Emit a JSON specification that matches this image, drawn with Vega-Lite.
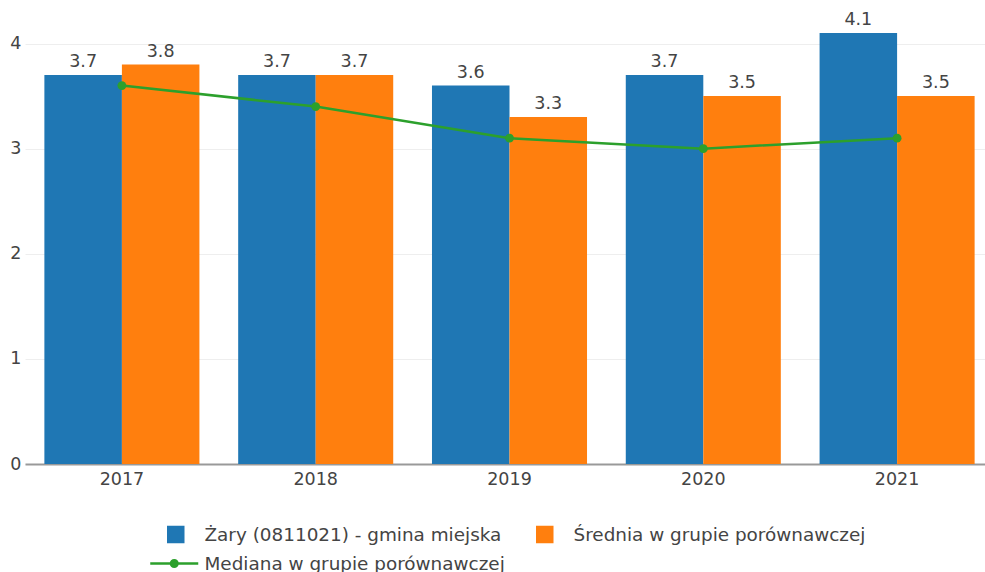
{
  "$schema": "https://vega.github.io/schema/vega-lite/v6.json",
  "width": 960,
  "height": 452,
  "autosize": {"type": "none"},
  "padding": {"left": 25, "top": 12, "right": 0, "bottom": 108},
  "config": {"view": {"stroke": null}, "font": "DejaVu Sans"},
  "data": {
    "values": [
      {"year": "2017", "series": "Żary (0811021) - gmina miejska", "value": 3.7},
      {"year": "2017", "series": "Średnia w grupie porównawczej", "value": 3.8},
      {"year": "2017", "series": "Mediana w grupie porównawczej", "value": 3.6},
      {"year": "2018", "series": "Żary (0811021) - gmina miejska", "value": 3.7},
      {"year": "2018", "series": "Średnia w grupie porównawczej", "value": 3.7},
      {"year": "2018", "series": "Mediana w grupie porównawczej", "value": 3.4},
      {"year": "2019", "series": "Żary (0811021) - gmina miejska", "value": 3.6},
      {"year": "2019", "series": "Średnia w grupie porównawczej", "value": 3.3},
      {"year": "2019", "series": "Mediana w grupie porównawczej", "value": 3.1},
      {"year": "2020", "series": "Żary (0811021) - gmina miejska", "value": 3.7},
      {"year": "2020", "series": "Średnia w grupie porównawczej", "value": 3.5},
      {"year": "2020", "series": "Mediana w grupie porównawczej", "value": 3.0},
      {"year": "2021", "series": "Żary (0811021) - gmina miejska", "value": 4.1},
      {"year": "2021", "series": "Średnia w grupie porównawczej", "value": 3.5},
      {"year": "2021", "series": "Mediana w grupie porównawczej", "value": 3.1}
    ]
  },
  "encoding": {
    "x": {
      "field": "year",
      "type": "ordinal",
      "scale": {"range": [0, 969], "paddingInner": 0.2, "paddingOuter": 0.1},
      "axis": {
        "title": null,
        "labelAngle": 0,
        "ticks": false,
        "labelPadding": 6,
        "labelFontSize": 17.5,
        "labelColor": "#444",
        "labelFont": "DejaVu Sans",
        "domainColor": "#999",
        "domainWidth": 2,
        "grid": false
      }
    },
    "y": {
      "field": "value",
      "type": "quantitative",
      "scale": {"domain": [0, 4.3], "nice": false},
      "axis": {
        "title": null,
        "values": [0, 1, 2, 3, 4],
        "format": "d",
        "domain": false,
        "ticks": false,
        "labelPadding": 4,
        "labelFontSize": 17.5,
        "labelColor": "#444",
        "labelFont": "DejaVu Sans",
        "gridColor": "#eeeeee",
        "gridWidth": 1
      }
    },
    "color": {
      "field": "series",
      "type": "nominal",
      "scale": {
        "domain": ["Żary (0811021) - gmina miejska", "Średnia w grupie porównawczej", "Mediana w grupie porównawczej"],
        "range": ["#1f77b4", "#ff7f0e", "#2ca02c"]
      },
      "legend": {
        "orient": "none",
        "legendX": 125,
        "legendY": 511,
        "direction": "horizontal",
        "columns": 2,
        "title": null,
        "padding": 0,
        "labelFont": "DejaVu Sans",
        "labelFontSize": 18.4,
        "labelColor": "#444",
        "labelLimit": 600,
        "labelOffset": 31.5,
        "columnPadding": 14,
        "rowPadding": 5,
        "symbolSize": 400,
        "encode": {
          "symbols": {
            "update": {
              "shape": {"signal": "datum.value === 'Mediana w grupie porównawczej' ? 'M-1.125,0H3.675M0.945,0A0.33,0.33 0 1,0 1.605,0A0.33,0.33 0 1,0 0.945,0Z' : 'M0.675,-0.75H2.175V0.75H0.675Z'"},
              "fill": {"scale": "color", "field": "value"},
              "stroke": {"scale": "color", "field": "value"},
              "strokeWidth": {"value": 2.5},
              "opacity": {"value": 1},
              "fillOpacity": {"value": 1}
            }
          }
        }
      }
    }
  },
  "layer": [
    {
      "transform": [{"filter": "datum.series !== 'Mediana w grupie porównawczej'"}],
      "mark": {"type": "bar"},
      "encoding": {
        "xOffset": {
          "field": "series",
          "type": "nominal",
          "scale": {"domain": ["Żary (0811021) - gmina miejska", "Średnia w grupie porównawczej"], "paddingInner": 0, "paddingOuter": 0}
        }
      }
    },
    {
      "transform": [{"filter": "datum.series !== 'Mediana w grupie porównawczej'"}],
      "mark": {"type": "text", "dy": -8, "baseline": "alphabetic", "fontSize": 17.5, "font": "DejaVu Sans", "color": "#444"},
      "encoding": {
        "xOffset": {
          "field": "series",
          "type": "nominal",
          "scale": {"domain": ["Żary (0811021) - gmina miejska", "Średnia w grupie porównawczej"], "paddingInner": 0, "paddingOuter": 0}
        },
        "text": {"field": "value", "type": "quantitative", "format": ".1f"},
        "color": {"value": "#444"}
      }
    },
    {
      "transform": [{"filter": "datum.series === 'Mediana w grupie porównawczej'"}],
      "mark": {"type": "line", "strokeWidth": 2.5, "point": {"filled": true, "size": 78}},
      "encoding": {}
    }
  ]
}
